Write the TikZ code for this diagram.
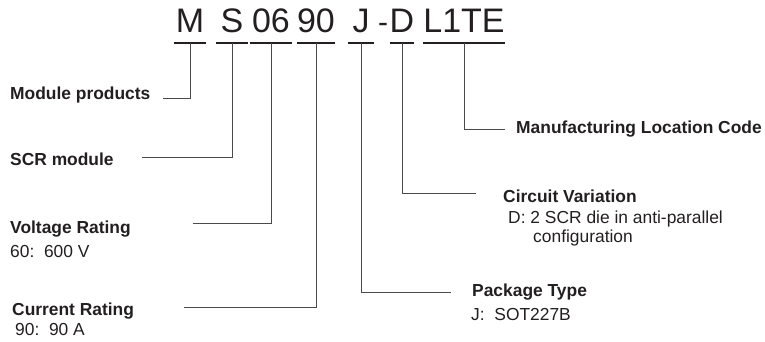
\documentclass[tikz,border=0pt]{standalone}
\usepackage{fontspec}
\setmainfont{Liberation Sans}
\usepackage{tikz}
\usetikzlibrary{positioning, calc}
\definecolor{inkgray}{HTML}{231F20}
\definecolor{linegray}{HTML}{4A4A4A}

\begin{document}
\begin{tikzpicture}[x=1pt,y=-1pt,font=\fontsize{17.4}{20}\selectfont,
  codechar/.style={anchor=south,inner xsep=0pt,inner ysep=10pt,text depth=0pt,
    font=\fontsize{34}{36}\selectfont,text=inkgray},
  codebar/.style={draw=inkgray,line width=1.6pt},
  leader/.style={draw=linegray,line width=0.9pt},
  heading/.style={anchor=base west,inner sep=0pt,font=\fontsize{17.4}{20}\selectfont\bfseries,text=inkgray},
  detail/.style={anchor=base west,inner sep=0pt,text=inkgray}]

\useasboundingbox (0,0) rectangle (765,342);

% --- Codice prodotto con barre
\foreach \name/\txt/\cx/\w in {cM/M/190/32, cS/S/232/32, cV/06/271/42, cI/90/316/34,
                               cJ/J/361/26, cD/D/402/24, cL/L1TE/464/78}{
  \node[codechar,minimum width=\w pt] (\name) at (\cx,43) {\txt};
  \draw[codebar] (\name.south west) -- (\name.south east);
}
\node[anchor=base,inner xsep=0pt,inner ysep=0pt,font=\fontsize{30}{32}\selectfont,text=inkgray] (dash) at (383,33) {-};

% --- Etichette a sinistra
\node[heading] (tM) at (10,100) {Module products};
\node[heading] (tS) at (10,165) {SCR module};
\node[heading] (tV) at (10,233) {Voltage Rating};
\node[detail] (dV) at (10,257) {60:\ \ 600 V};
\node[heading] (tI) at (12,315) {Current Rating};
\node[detail] (dI) at (15,335) {90:\ \ 90 A};

% --- Etichette a destra
\node[heading] (tL) at (516,133) {Manufacturing Location Code};
\node[heading] (tD) at (503,202) {Circuit Variation};
\node[detail] (dD) at (508,223) {D: 2 SCR die in anti-parallel};
\node[detail] (dD2) at (533,242) {configuration};
\node[heading] (tJ) at (472,296) {Package Type};
\node[detail] (dJ) at (471,320) {J:\ \ SOT227B};

% --- Estremi delle linee
\coordinate (kM) at (163,98);
\coordinate (kS) at (142,157);
\coordinate (kV) at (193,223);
\coordinate (kI) at (184,307);
\coordinate (kJ) at (451,292);
\coordinate (kD) at (476,193);
\coordinate (kL) at (505,129);

% --- Linee di richiamo
\foreach \c/\k in {cM/kM, cS/kS, cV/kV, cI/kI, cJ/kJ, cD/kD, cL/kL}{
  \draw[leader] (\c.south) |- (\k);
}

\end{tikzpicture}
\end{document}
